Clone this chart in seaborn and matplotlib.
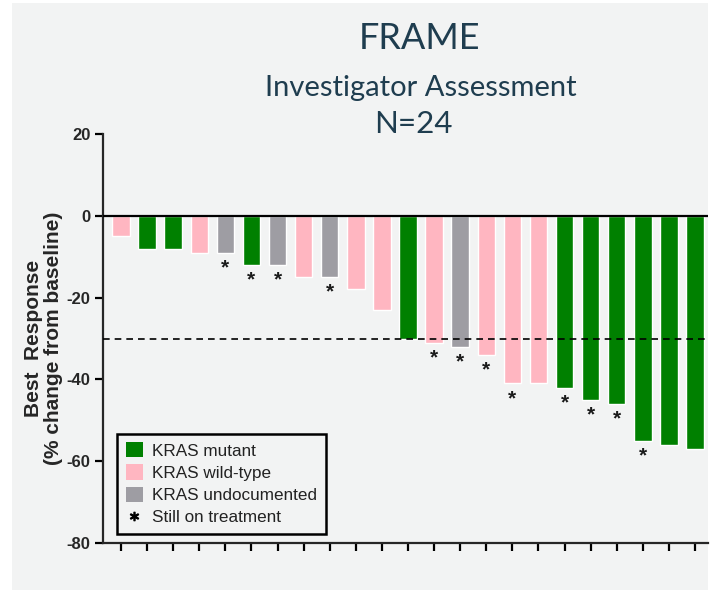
import matplotlib
matplotlib.use("Agg")
import matplotlib.pyplot as plt
from matplotlib.patches import Patch, Rectangle
from matplotlib.lines import Line2D
import seaborn as sns
import pandas as pd

# Best percentage change from baseline, one bar per patient (sorted)
responses = [-5, -8, -8, -9, -9, -12, -12, -15, -15, -18, -23, -30,
             -31, -32, -34, -41, -41, -42, -45, -46, -55, -56, -57]
kras_status = ["KRAS wild-type", "KRAS mutant", "KRAS mutant", "KRAS wild-type",
               "KRAS undocumented", "KRAS mutant", "KRAS undocumented",
               "KRAS wild-type", "KRAS undocumented", "KRAS wild-type",
               "KRAS wild-type", "KRAS mutant", "KRAS wild-type",
               "KRAS undocumented", "KRAS wild-type", "KRAS wild-type",
               "KRAS wild-type", "KRAS mutant", "KRAS mutant", "KRAS mutant",
               "KRAS mutant", "KRAS mutant", "KRAS mutant"]
still_on_treatment = [0, 0, 0, 0, 1, 1, 1, 0, 1, 0, 0, 0,
                      1, 1, 1, 1, 0, 1, 1, 1, 1, 0, 0]
status_order = ["KRAS mutant", "KRAS wild-type", "KRAS undocumented"]
status_colors = ["#008000", "#ffb6c1", "#9e9da3"]
y_ticks = [20, 0, -20, -40, -60, -80]
pr_threshold = -30

title = "FRAME"
subtitle = "Investigator Assessment"
n_label = "N=24"

sns.set_style("ticks")
plt.rcParams["font.family"] = ["Liberation Sans", "DejaVu Sans"]

bg = "#f2f3f3"
fig = plt.figure(figsize=(7.11, 5.90), dpi=100, facecolor="white")
fig.patches.append(Rectangle((12 / 711, 0), (708 - 12) / 711, 1 - 3 / 590,
                             transform=fig.transFigure, facecolor=bg,
                             edgecolor="none", zorder=-10))

ax = fig.add_axes([103 / 711, 1 - 543 / 590, (708 - 103) / 711, (543 - 134) / 590])
ax.set_facecolor("none")

df = pd.DataFrame({
    "patient": list(range(len(responses))),
    "response": responses,
    "kras": kras_status,
})

sns.barplot(data=df, x="patient", y="response", hue="kras",
            hue_order=status_order, palette=status_colors, dodge=False,
            width=0.67, saturation=1, legend=False, ax=ax, zorder=2)

# Asterisks for patients still on treatment
for i, (v, flag) in enumerate(zip(responses, still_on_treatment)):
    if flag:
        ax.annotate("*", xy=(i, v), xytext=(0, -4), textcoords="offset points",
                    ha="center", va="top", fontsize=15, fontweight="bold",
                    color="#1a1a1a")

ax.axhline(0, color="black", lw=1.6, zorder=3)
ax.axhline(pr_threshold, color="black", lw=1.2, ls=(0, (4, 3)), zorder=3)

ax.set_ylim(-80, 20)
ax.set_xlim(-0.69, len(responses) - 0.5)
ax.set_yticks(y_ticks)
ax.set_yticklabels([str(t) for t in y_ticks], fontsize=12, fontweight="bold")
ax.set_xticks(range(len(responses)))
ax.set_xticklabels([])
ax.set_xlabel("")
ax.set_ylabel("Best  Response\n(% change from baseline)", fontsize=15,
              fontweight="bold", labelpad=2.5, linespacing=1.05)

for side in ("top", "right"):
    ax.spines[side].set_visible(False)
for side in ("left", "bottom"):
    ax.spines[side].set_linewidth(1.6)
ax.tick_params(axis="both", length=6, width=1.6, color="black", pad=3)

handles = [Patch(facecolor=c, edgecolor="none") for c in status_colors]
handles.append(Line2D([], [], marker="$*$", linestyle="none", color="black",
                      markersize=6))
labels = status_order + ["Still on treatment"]
leg = ax.legend(handles, labels, loc="lower left",
                bbox_to_anchor=(14 / 605, 9 / 409), borderaxespad=0,
                fontsize=12.3, handlelength=1.0, handleheight=1.0,
                handletextpad=0.55, labelspacing=0.34, borderpad=0.5,
                fancybox=False, framealpha=1, facecolor=bg, edgecolor="black")
leg.get_frame().set_linewidth(1.8)
for t in leg.get_texts():
    t.set_color("#222222")

title_color = "#1f3d4f"
fig.text(420 / 711, 1 - 49 / 590, title, ha="center", va="baseline",
         fontsize=26, family="Lato", color=title_color)
fig.text(421 / 711, 1 - 96 / 590, subtitle, ha="center", va="baseline",
         fontsize=21, family="Lato", color=title_color)
fig.text(413 / 711, 1 - 133 / 590, n_label, ha="center", va="baseline",
         fontsize=22.5, family="Lato", color=title_color)

fig.savefig("out.png", dpi=100, facecolor="white")
